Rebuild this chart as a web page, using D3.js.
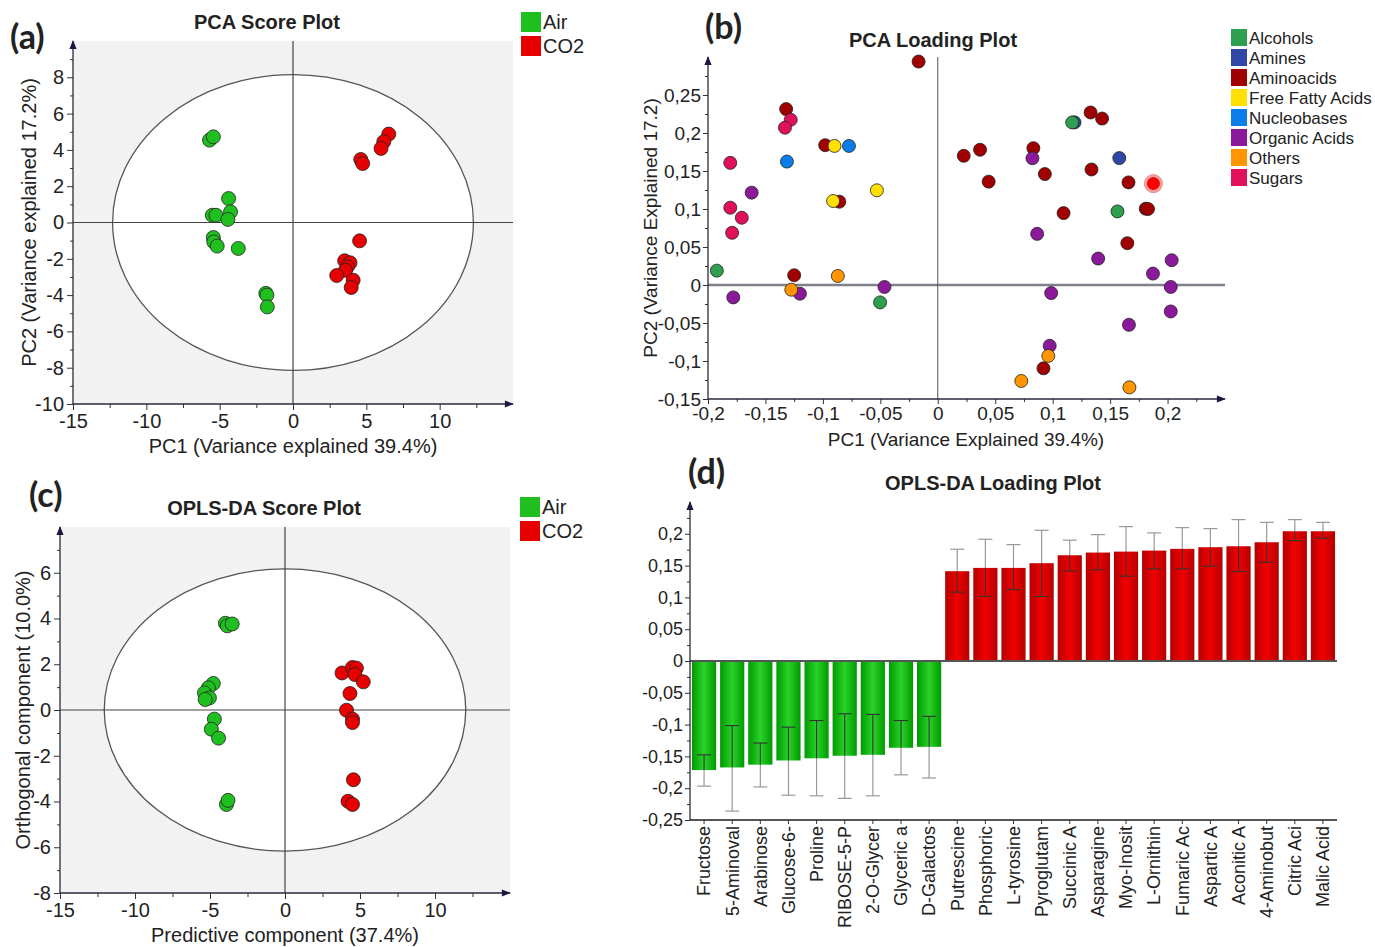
<!DOCTYPE html>
<html>
<head>
<meta charset="utf-8">
<script src="https://cdn.jsdelivr.net/npm/d3@7"></script>
<style>
  body { margin: 0; background: #fff; }
  text { font-family: "Liberation Sans", Arial, sans-serif; fill: #222; }
  .tick line { stroke: #333; }
</style>
</head>
<body>
<svg id="chart" width="1375" height="947"></svg>
<script>
// ---- data ----
const groups = ["Air", "CO2"];
const groupColors = ["#1fbf1f", "#e60000"];

// (a) PCA scores [PC1, PC2]
const pcaScoreAir = [[-5.69,4.54],[-5.43,4.72],[-4.39,1.32],[-4.26,0.59],[-5.5,0.4],[-5.25,0.4],[-4.44,0.17],
  [-5.43,-0.83],[-5.4,-1.07],[-5.17,-1.3],[-3.73,-1.43],[-1.85,-3.9],[-1.78,-4.0],[-1.75,-4.65]];
const pcaScoreCO2 = [[6.53,4.87],[6.19,4.45],[6.0,4.08],[4.62,3.47],[4.75,3.25],[4.54,-1.01],[3.52,-2.11],
  [3.89,-2.22],[3.71,-2.44],[3.58,-2.63],[2.98,-2.92],[4.1,-3.18],[3.97,-3.58]];

// (c) OPLS-DA scores [predictive, orthogonal]
const oplsScoreAir = [[-3.97,3.79],[-3.85,3.68],[-3.52,3.76],[-4.78,1.16],[-5.11,0.97],[-5.37,0.75],[-5.04,0.53],
  [-5.32,0.46],[-4.71,-0.40],[-4.91,-0.84],[-4.43,-1.23],[-3.9,-4.13],[-3.8,-3.95]];
const oplsScoreCO2 = [[3.8,1.62],[4.5,1.86],[4.76,1.83],[4.66,1.55],[5.22,1.23],[4.33,0.72],[4.1,-0.01],
  [4.5,-0.40],[4.5,-0.55],[4.56,-3.05],[4.2,-3.99],[4.5,-4.13]];

// (b) PCA loadings
const loadingCategories = ["Alcohols","Amines","Aminoacids","Free Fatty Acids","Nucleobases","Organic Acids","Others","Sugars"];
const loadingColors = ["#2e9e4f","#3047a6","#a00000","#ffe000","#0a7ee8","#8b1a9b","#ff9500","#e0105a"];
const loadingDrawOrder = ["Aminoacids","Organic Acids","Sugars","Amines","Nucleobases","Free Fatty Acids","Others","Alcohols"];
const loadingPoints = [
  ["Aminoacids",-0.0167,0.294],["Aminoacids",-0.132,0.2315],["Aminoacids",-0.098,0.184],["Aminoacids",-0.0857,0.1096],
  ["Aminoacids",-0.125,0.0128],["Aminoacids",0.0226,0.170],["Aminoacids",0.0368,0.178],["Aminoacids",0.0443,0.136],
  ["Aminoacids",0.0832,0.180],["Aminoacids",0.0932,0.146],["Aminoacids",0.1095,0.0946],["Aminoacids",0.133,0.227],
  ["Aminoacids",0.143,0.219],["Aminoacids",0.1338,0.152],["Aminoacids",0.166,0.135],["Aminoacids",0.181,0.1004],
  ["Aminoacids",0.183,0.1],["Aminoacids",0.165,0.055],["Aminoacids",0.092,-0.1096],
  ["Sugars",-0.128,0.2174],["Sugars",-0.133,0.207],["Sugars",-0.1806,0.1607],["Sugars",-0.1806,0.1017],
  ["Sugars",-0.1706,0.0885],["Sugars",-0.179,0.0687],
  ["Organic Acids",-0.162,0.1215],["Organic Acids",-0.178,-0.0163],["Organic Acids",-0.120,-0.0114],
  ["Organic Acids",-0.0464,-0.0026],["Organic Acids",0.0824,0.1668],["Organic Acids",0.0865,0.0673],
  ["Organic Acids",0.1396,0.0348],["Organic Acids",0.0987,-0.0106],["Organic Acids",0.0974,-0.080],
  ["Organic Acids",0.1664,-0.0524],["Organic Acids",0.1873,0.015],["Organic Acids",0.2036,0.0326],
  ["Organic Acids",0.2028,-0.0026],["Organic Acids",0.2028,-0.0348],
  ["Others",-0.1275,-0.0062],["Others",-0.087,0.0119],["Others",0.0962,-0.0933],["Others",0.0727,-0.1263],
  ["Others",0.1668,-0.1347],
  ["Free Fatty Acids",-0.0899,0.183],["Free Fatty Acids",-0.0911,0.1105],["Free Fatty Acids",-0.053,0.1246],
  ["Nucleobases",-0.0773,0.183],["Nucleobases",-0.1313,0.1624],
  ["Amines",0.158,0.167],["Amines",0.119,0.214],
  ["Alcohols",0.117,0.2139],["Alcohols",-0.1923,0.0189],["Alcohols",-0.0502,-0.0229],["Alcohols",0.1564,0.0968]
];
const selectedLoading = [0.1877, 0.1334]; // highlighted aminoacid

// (d) OPLS-DA loadings with confidence intervals
const barNames = ["Fructose","5-Aminoval","Arabinose","Glucose-6-","Proline","RIBOSE-5-P","2-O-Glycer","Glyceric a",
  "D-Galactos","Putrescine","Phosphoric","L-tyrosine","Pyroglutam","Succinic A","Asparagine","Myo-Inosit",
  "L-Ornithin","Fumaric Ac","Aspartic A","Aconitic A","4-Aminobut","Citric Aci","Malic Acid"];
const barValues = [-0.1715,-0.1674,-0.163,-0.1564,-0.153,-0.149,-0.1475,-0.1365,-0.135,
  0.1412,0.1464,0.1464,0.1538,0.1663,0.1705,0.172,0.1736,0.1763,0.1789,0.1804,0.1867,0.204,0.204];
const barCiHigh = [-0.1475,-0.1015,-0.129,-0.104,-0.0936,-0.083,-0.084,-0.0936,-0.087,
  0.1757,0.1914,0.183,0.2055,0.190,0.1987,0.2113,0.2014,0.2097,0.2082,0.2223,0.218,0.2223,0.218];
const barCiLow = [-0.1967,-0.236,-0.198,-0.211,-0.212,-0.216,-0.212,-0.179,-0.184,
  0.1083,0.1015,0.1124,0.1015,0.1417,0.1433,0.1334,0.1449,0.1449,0.149,0.1407,0.1553,0.1893,0.193];

// ---- drawing ----
const svg = d3.select("#chart");
const intFmt = d3.formatLocale({decimal: ".", thousands: ",", grouping: [3], currency: ["", ""], minus: "-"}).format("d");
const commaFmt = d3.formatLocale({decimal: ",", thousands: ".", grouping: [3], currency: ["", ""], minus: "-"}).format("~g");
const axisColor = "#2a2a3a";

const defs = svg.append("defs");
defs.append("marker").attr("id", "arrow")
  .attr("viewBox", "0 0 10 10").attr("refX", 9).attr("refY", 5)
  .attr("markerUnits", "userSpaceOnUse").attr("markerWidth", 12).attr("markerHeight", 9)
  .attr("orient", "auto")
  .append("path").attr("d", "M0,1 L10,5 L0,9 Z").attr("fill", "#1a1a40");

function gradient(id, edge, mid) {
  const lg = defs.append("linearGradient").attr("id", id).attr("x1", "0%").attr("x2", "100%");
  lg.append("stop").attr("offset", "0%").attr("stop-color", edge);
  lg.append("stop").attr("offset", "50%").attr("stop-color", mid);
  lg.append("stop").attr("offset", "100%").attr("stop-color", edge);
}
gradient("gradGreen", "#009a00", "#2ad22a");
gradient("gradRed", "#b40000", "#f20000");

function styleAxis(sel, size) {
  sel.select(".domain").remove();
  sel.selectAll(".tick line").attr("stroke", axisColor);
  sel.selectAll("text").style("font-size", size + "px").attr("fill", "#222");
}

function panelLabel(txt, x, y) {
  svg.append("text").attr("x", x).attr("y", y).text(txt)
    .style("font-family", "Lato, 'Open Sans', sans-serif").style("font-weight", "bold").style("font-size", "34px");
}

function title(txt, x, y) {
  svg.append("text").attr("x", x).attr("y", y).attr("text-anchor", "middle").text(txt)
    .style("font-weight", "bold").style("font-size", "20px");
}

function groupLegend(x, y) {
  groups.forEach((grp, i) => {
    svg.append("rect").attr("x", x).attr("y", y + i * 24).attr("width", 20).attr("height", 20).attr("fill", groupColors[i]);
    svg.append("text").attr("x", x + 22).attr("y", y + i * 24 + 17).text(grp).style("font-size", "20px");
  });
}

function scorePlot(cfg) {
  const x = d3.scaleLinear().domain([-15, 15]).range(cfg.xr);
  const y = d3.scaleLinear().domain(cfg.yd).range(cfg.yr);
  const g = svg.append("g");
  g.append("rect").attr("x", x(-15)).attr("y", y(cfg.yd[1]))
    .attr("width", x(15) - x(-15)).attr("height", y(cfg.yd[0]) - y(cfg.yd[1])).attr("fill", "#f2f2f2");
  g.append("ellipse").attr("cx", x(0)).attr("cy", y(0))
    .attr("rx", x(cfg.rx) - x(0)).attr("ry", y(0) - y(cfg.ry))
    .attr("fill", "#fff").attr("stroke", "#555").attr("stroke-width", 1.3);
  g.append("line").attr("x1", x(0)).attr("x2", x(0)).attr("y1", y(cfg.yd[1])).attr("y2", y(cfg.yd[0]))
    .attr("stroke", "#444").attr("stroke-width", 1.2);
  g.append("line").attr("x1", x(-15)).attr("x2", x(15)).attr("y1", y(0)).attr("y2", y(0))
    .attr("stroke", "#444").attr("stroke-width", 1.2);

  const yb = y(cfg.yd[0]);
  g.append("g").attr("transform", `translate(0,${yb})`)
    .call(d3.axisBottom(x).tickValues(d3.range(-15, 11, 5)).tickFormat(intFmt).tickSize(6).tickPadding(4))
    .call(s => styleAxis(s, 20));
  g.append("g").attr("transform", `translate(0,${yb})`)
    .call(d3.axisBottom(x).tickValues(d3.range(-12.5, 15, 5)).tickFormat("").tickSize(4))
    .call(s => styleAxis(s, 20));
  g.append("g").attr("transform", `translate(${x(-15)},0)`)
    .call(d3.axisLeft(y).tickValues(cfg.yMajor).tickFormat(intFmt).tickSize(6).tickPadding(3))
    .call(s => styleAxis(s, 20));
  g.append("g").attr("transform", `translate(${x(-15)},0)`)
    .call(d3.axisLeft(y).tickValues(cfg.yMinor).tickFormat("").tickSize(3))
    .call(s => styleAxis(s, 20));
  g.append("line").attr("x1", x(-15)).attr("x2", x(15)).attr("y1", yb).attr("y2", yb)
    .attr("stroke", axisColor).attr("stroke-width", 1.3).attr("marker-end", "url(#arrow)");
  g.append("line").attr("x1", x(-15)).attr("x2", x(-15)).attr("y1", yb).attr("y2", y(cfg.yd[1]))
    .attr("stroke", axisColor).attr("stroke-width", 1.3).attr("marker-end", "url(#arrow)");

  [cfg.air, cfg.co2].forEach((pts, i) => {
    g.append("g").selectAll("circle").data(pts).join("circle")
      .attr("cx", d => x(d[0])).attr("cy", d => y(d[1])).attr("r", 7)
      .attr("fill", groupColors[i]).attr("stroke", "#222").attr("stroke-width", 0.8);
  });

  g.append("text").attr("x", x(0)).attr("y", yb + 49).attr("text-anchor", "middle")
    .text(cfg.xLabel).style("font-size", "20px");
  g.append("text").attr("transform", `translate(${cfg.yLabelX},${y(0)}) rotate(-90)`)
    .attr("text-anchor", "middle").text(cfg.yLabel).style("font-size", "20px");
}

// (a)
panelLabel("(a)", 10, 49);
title("PCA Score Plot", 267, 29);
groupLegend(521, 12);
scorePlot({
  xr: [73, 513], yd: [-10, 10], yr: [404, 41], rx: 12.3, ry: 8.15,
  yMajor: d3.range(-10, 9, 2), yMinor: d3.range(-9, 10, 2),
  air: pcaScoreAir, co2: pcaScoreCO2,
  xLabel: "PC1 (Variance explained 39.4%)", yLabel: "PC2 (Variance explained 17.2%)", yLabelX: 36
});

// (c)
panelLabel("(c)", 29, 507);
title("OPLS-DA Score Plot", 264, 515);
groupLegend(520, 497);
scorePlot({
  xr: [60, 510], yd: [-8, 8], yr: [893, 527], rx: 12.05, ry: 6.17,
  yMajor: d3.range(-8, 7, 2), yMinor: d3.range(-7, 8, 2),
  air: oplsScoreAir, co2: oplsScoreCO2,
  xLabel: "Predictive component (37.4%)", yLabel: "Orthogonal component (10.0%)", yLabelX: 30
});

// (b) loading scatter
(function () {
  panelLabel("(b)", 705, 39);
  title("PCA Loading Plot", 933, 47);
  const x = d3.scaleLinear().domain([-0.2, 0.25]).range([708, 1225]);
  const y = d3.scaleLinear().domain([-0.15, 0.30]).range([399, 57]);
  const color = d3.scaleOrdinal().domain(loadingCategories).range(loadingColors);
  const g = svg.append("g");

  g.append("line").attr("x1", x(-0.2)).attr("x2", x(0.25)).attr("y1", y(0)).attr("y2", y(0))
    .attr("stroke", "#80808c").attr("stroke-width", 2.5);
  g.append("line").attr("x1", x(0)).attr("x2", x(0)).attr("y1", y(0.30)).attr("y2", y(-0.15))
    .attr("stroke", "#555").attr("stroke-width", 1);

  const xMajor = d3.range(-4, 5).map(i => i * 0.05);
  const yMajor = d3.range(-3, 6).map(i => i * 0.05);
  g.append("g").attr("transform", `translate(0,${y(-0.15)})`)
    .call(d3.axisBottom(x).tickValues(xMajor).tickFormat(commaFmt).tickSize(5).tickPadding(3))
    .call(s => styleAxis(s, 19));
  g.append("g").attr("transform", `translate(0,${y(-0.15)})`)
    .call(d3.axisBottom(x).tickValues(d3.range(-3.5, 5, 1).map(i => i * 0.05)).tickFormat("").tickSize(3))
    .call(s => styleAxis(s, 19));
  g.append("g").attr("transform", `translate(${x(-0.2)},0)`)
    .call(d3.axisLeft(y).tickValues(yMajor).tickFormat(commaFmt).tickSize(5).tickPadding(2))
    .call(s => styleAxis(s, 19));
  g.append("g").attr("transform", `translate(${x(-0.2)},0)`)
    .call(d3.axisLeft(y).tickValues(d3.range(-2.5, 6, 1).map(i => i * 0.05)).tickFormat("").tickSize(3))
    .call(s => styleAxis(s, 19));
  g.append("line").attr("x1", x(-0.2)).attr("x2", x(0.25)).attr("y1", y(-0.15)).attr("y2", y(-0.15))
    .attr("stroke", axisColor).attr("stroke-width", 1.3).attr("marker-end", "url(#arrow)");
  g.append("line").attr("x1", x(-0.2)).attr("x2", x(-0.2)).attr("y1", y(-0.15)).attr("y2", y(0.30))
    .attr("stroke", axisColor).attr("stroke-width", 1.3).attr("marker-end", "url(#arrow)");

  const ordered = loadingDrawOrder.flatMap(c => loadingPoints.filter(p => p[0] === c));
  g.append("g").selectAll("circle").data(ordered).join("circle")
    .attr("cx", d => x(d[1])).attr("cy", d => y(d[2])).attr("r", 6.5)
    .attr("fill", d => color(d[0])).attr("stroke", "#222").attr("stroke-width", 0.8);
  g.append("circle").attr("cx", x(selectedLoading[0])).attr("cy", y(selectedLoading[1])).attr("r", 9)
    .attr("fill", "#f4a0a0").attr("stroke", "#e88");
  g.append("circle").attr("cx", x(selectedLoading[0])).attr("cy", y(selectedLoading[1])).attr("r", 6)
    .attr("fill", "#ff0000").attr("stroke", "#c00").attr("stroke-width", 0.8);

  g.append("text").attr("x", 966).attr("y", 446).attr("text-anchor", "middle")
    .text("PC1 (Variance Explained 39.4%)").style("font-size", "19px");
  g.append("text").attr("transform", `translate(657,${y(0.075)}) rotate(-90)`).attr("text-anchor", "middle")
    .text("PC2 (Variance Explained 17.2)").style("font-size", "19px");

  loadingCategories.forEach((c, i) => {
    svg.append("rect").attr("x", 1231).attr("y", 29 + i * 20).attr("width", 16).attr("height", 17).attr("fill", loadingColors[i]);
    svg.append("text").attr("x", 1249).attr("y", 44 + i * 20).text(c).style("font-size", "17px");
  });
})();

// (d) bar chart
(function () {
  panelLabel("(d)", 688, 484);
  title("OPLS-DA Loading Plot", 993, 490);
  const x = d3.scaleBand().domain(barNames).range([690, 1337]).paddingInner(0.14).paddingOuter(0.07);
  const y = d3.scaleLinear().domain([-0.25, 0.25]).range([820, 502]);
  const g = svg.append("g");

  g.append("g").attr("transform", `translate(690,0)`)
    .call(d3.axisLeft(y).tickValues(d3.range(-5, 5).map(i => i * 0.05)).tickFormat(commaFmt).tickSize(5).tickPadding(2))
    .call(s => styleAxis(s, 18));
  g.append("g").attr("transform", `translate(690,0)`)
    .call(d3.axisLeft(y).tickValues(d3.range(-4.5, 5, 1).map(i => i * 0.05)).tickFormat("").tickSize(3))
    .call(s => styleAxis(s, 18));

  const bars = barNames.map((n, i) => ({name: n, v: barValues[i], hi: barCiHigh[i], lo: barCiLow[i]}));
  g.append("g").selectAll("rect").data(bars).join("rect")
    .attr("x", d => x(d.name)).attr("width", x.bandwidth())
    .attr("y", d => y(Math.max(0, d.v))).attr("height", d => Math.abs(y(d.v) - y(0)))
    .attr("fill", d => d.v < 0 ? "url(#gradGreen)" : "url(#gradRed)");

  const cap = 7;
  bars.forEach(d => {
    const cx = x(d.name) + x.bandwidth() / 2;
    const inner = d.v < 0 ? d.hi : d.lo;   // end of interval lying inside the bar
    const outer = d.v < 0 ? d.lo : d.hi;
    g.append("line").attr("x1", cx).attr("x2", cx).attr("y1", y(d.v)).attr("y2", y(outer)).attr("stroke", "#999").attr("stroke-width", 1.2);
    g.append("line").attr("x1", cx - cap).attr("x2", cx + cap).attr("y1", y(outer)).attr("y2", y(outer)).attr("stroke", "#999").attr("stroke-width", 1.2);
    g.append("line").attr("x1", cx).attr("x2", cx).attr("y1", y(d.v)).attr("y2", y(inner)).attr("stroke", "#333").attr("stroke-width", 1.1);
    g.append("line").attr("x1", cx - cap).attr("x2", cx + cap).attr("y1", y(inner)).attr("y2", y(inner)).attr("stroke", "#333").attr("stroke-width", 1.1);
  });

  g.append("line").attr("x1", 690).attr("x2", 1337).attr("y1", y(0)).attr("y2", y(0)).attr("stroke", "#555").attr("stroke-width", 2);
  g.append("line").attr("x1", 690).attr("x2", 1337).attr("y1", y(-0.25)).attr("y2", y(-0.25)).attr("stroke", "#555").attr("stroke-width", 2);
  g.append("line").attr("x1", 690).attr("x2", 690).attr("y1", y(-0.25)).attr("y2", y(0.25))
    .attr("stroke", axisColor).attr("stroke-width", 1.3).attr("marker-end", "url(#arrow)");

  const xa = g.append("g").attr("transform", `translate(0,${y(-0.25)})`)
    .call(d3.axisBottom(x).tickSize(4).tickPadding(0));
  xa.select(".domain").remove();
  xa.selectAll(".tick line").attr("stroke", "#555");
  xa.selectAll("text").attr("transform", "translate(0,6) rotate(-90)")
    .attr("text-anchor", "end").attr("dy", "0.35em").attr("x", 0).attr("y", 0)
    .style("font-size", "18px").attr("fill", "#222");
})();
</script>
</body>
</html>
